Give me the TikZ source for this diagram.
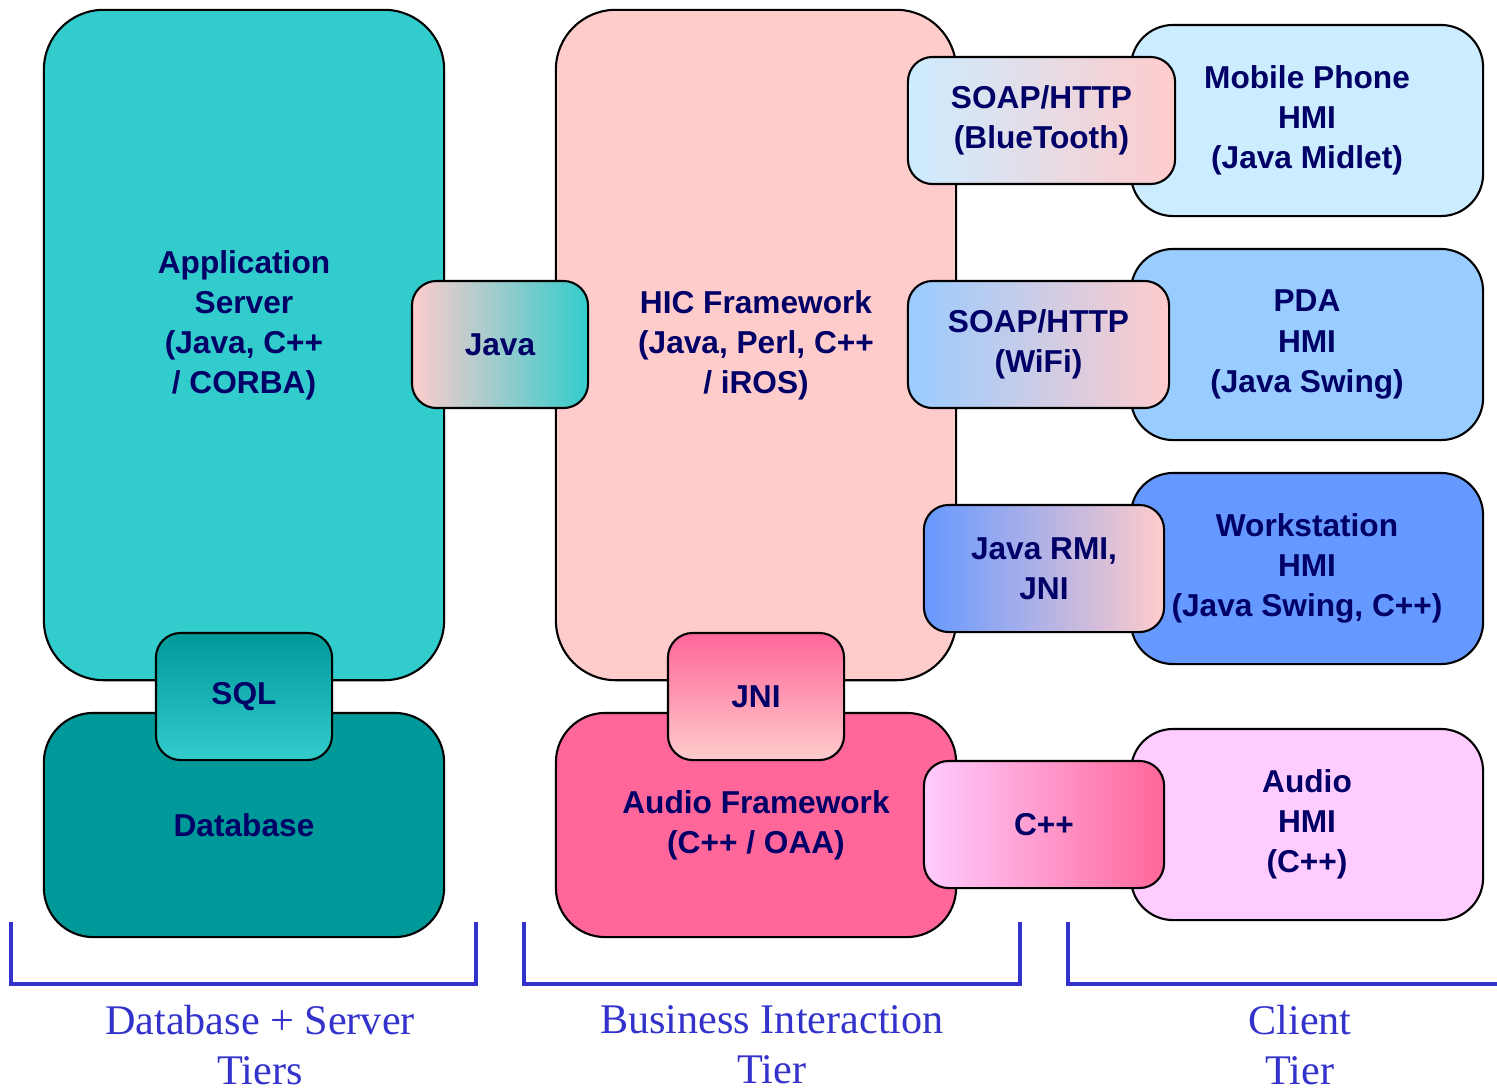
\documentclass[tikz,border=0pt]{standalone}
\usepackage{fontspec}
\setmainfont{Liberation Serif}
\newfontfamily\boxfont{Liberation Sans}
\definecolor{appc}{HTML}{33CCCC}
\definecolor{dbc}{HTML}{009999}
\definecolor{hicc}{HTML}{FFCCCC}
\definecolor{audfc}{HTML}{FF6699}
\definecolor{mobc}{HTML}{CCECFF}
\definecolor{pdac}{HTML}{99CCFF}
\definecolor{wsc}{HTML}{6699FF}
\definecolor{audhc}{HTML}{FFCCFF}
\definecolor{textc}{HTML}{000066}
\definecolor{tierc}{HTML}{3333CC}
\tikzset{
  box/.style={draw=black, line width=0.6pt, inner sep=0pt, align=center,
    text=textc, font=\boxfont\bfseries\fontsize{9}{11.4}\selectfont},
  bigbox/.style={box, rounded corners=17pt},
  hmibox/.style={box, rounded corners=12pt, minimum width=3.52cm, minimum height=1.91cm},
  linkbox/.style={box, rounded corners=7pt, minimum height=1.27cm},
  boxtext/.style={inner sep=0pt, align=center, text=textc,
    font=\boxfont\bfseries\fontsize{9}{11.4}\selectfont},
  tierline/.style={draw=tierc, line width=1.2pt},
  tierlabel/.style={inner sep=0pt, align=center, text=tierc,
    font=\fontsize{12}{14.2}\selectfont}
}
\begin{document}
\begin{tikzpicture}[x=0.01cm, y=-0.01cm]
\useasboundingbox (0,0) rectangle (1497,1090);

% server and business tiers
\node[bigbox, fill=appc, minimum width=4cm, minimum height=6.7cm] (appsrv) at (244,345) {};
\node[boxtext] (appsrvtxt) at (244,325) {Application\\Server\\(Java, C++\\/ CORBA)};
\node[bigbox, rounded corners=14pt, fill=dbc, minimum width=4cm, minimum height=2.24cm] (db) at (244,825) {Database};
\node[bigbox, fill=hicc, minimum width=4cm, minimum height=6.7cm] (hic) at (756,345) {HIC Framework\\(Java, Perl, C++\\/ iROS)};
\node[bigbox, rounded corners=14pt, fill=audfc, minimum width=4cm, minimum height=2.24cm] (audfw) at (756,825) {Audio Framework\\(C++ / OAA)};

% client tier
\node[hmibox, fill=mobc] (mobile) at (1307,120.5) {Mobile Phone\\HMI\\(Java Midlet)};
\node[hmibox, fill=pdac] (pda) at (1307,344.5) {PDA\\HMI\\(Java Swing)};
\node[hmibox, fill=wsc] (ws) at (1307,568.5) {Workstation\\HMI\\(Java Swing, C++)};
\node[hmibox, fill=audhc] (audhmi) at (1307,824.5) {Audio\\HMI\\(C++)};

% interfaces between the parts
\node[linkbox, minimum width=1.76cm, top color=dbc, bottom color=appc] (sql) at (244,696.5) {SQL};
\node[linkbox, minimum width=1.76cm, left color=hicc, right color=appc] (java) at (500,344.5) {Java};
\node[linkbox, minimum width=1.76cm, top color=audfc, bottom color=hicc] (jni) at (756,696.5) {JNI};
\node[linkbox, minimum width=2.67cm, left color=mobc, right color=hicc] (soapbt) at (1041.5,120.5) {SOAP/HTTP\\(BlueTooth)};
\node[linkbox, minimum width=2.61cm, left color=pdac, right color=hicc] (soapwifi) at (1038.5,344.5) {SOAP/HTTP\\(WiFi)};
\node[linkbox, minimum width=2.40cm, left color=wsc, right color=hicc] (rmi) at (1044,568.5) {Java RMI,\\JNI};
\node[linkbox, minimum width=2.40cm, left color=audhc, right color=audfc] (cpp) at (1044,824.5) {C++};

% tier brackets
\coordinate (b1a) at (11,922);  \coordinate (b1b) at (476,922);
\coordinate (b2a) at (524,922); \coordinate (b2b) at (1020,922);
\coordinate (b3a) at (1068,922); \coordinate (b3b) at (1497,984);
\draw[tierline] (b1a) |- (476,984) -- (b1b);
\draw[tierline] (b2a) |- (1020,984) -- (b2b);
\draw[tierline] (b3a) |- (b3b);

\node[tierlabel] (t1) at (260,1045) {Database + Server\\Tiers};
\node[tierlabel] (t2) at (772,1045) {Business Interaction\\Tier};
\node[tierlabel] (t3) at (1300,1045) {Client\\Tier};
\end{tikzpicture}
\end{document}
